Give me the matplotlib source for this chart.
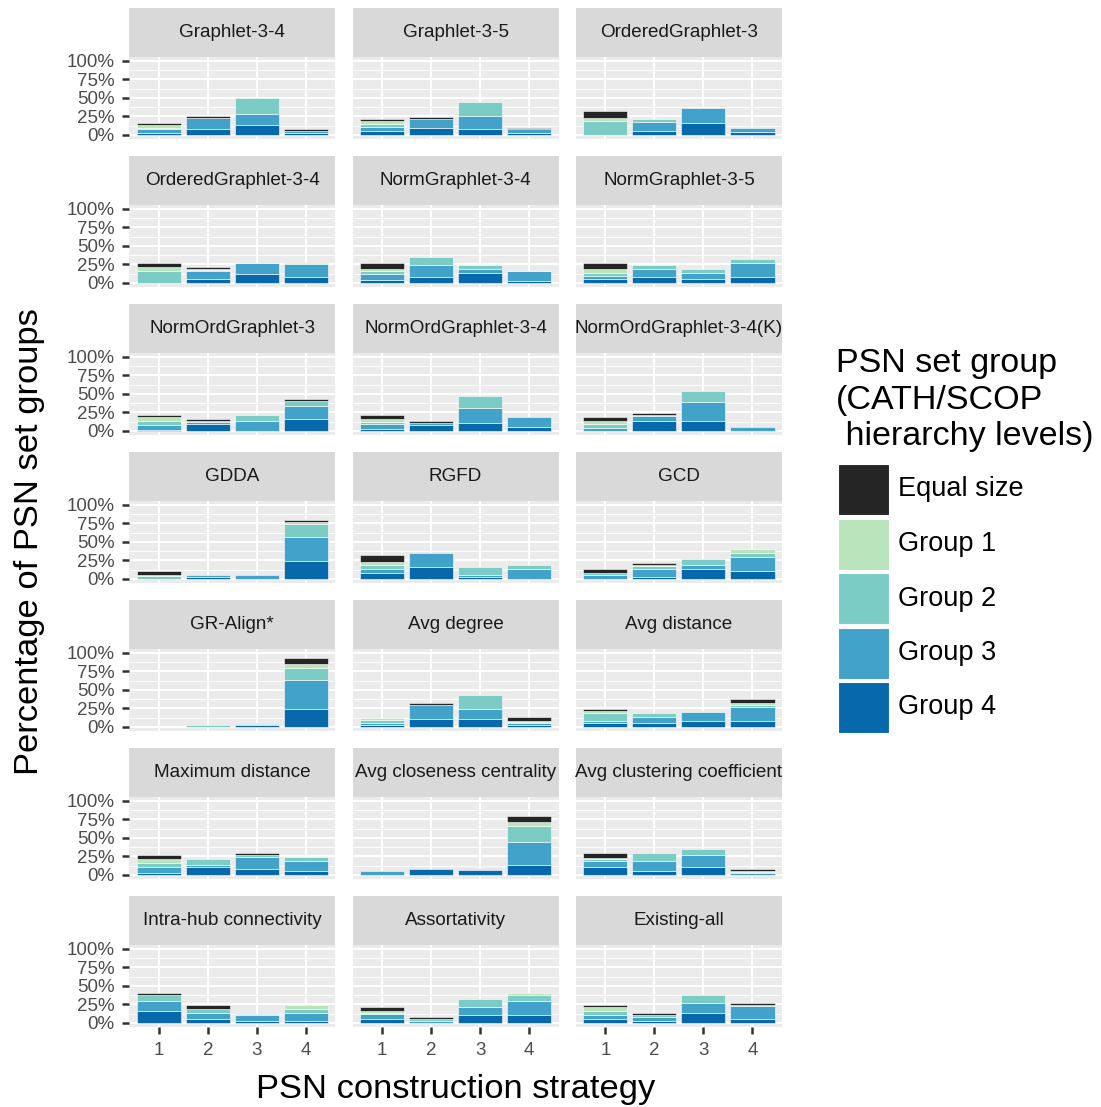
import matplotlib.pyplot as plt
from matplotlib.patches import Rectangle
import numpy as np

plt.rcParams['font.family'] = ['Liberation Sans', 'DejaVu Sans']

# facet names, read row by row
panels = ['Graphlet-3-4', 'Graphlet-3-5', 'OrderedGraphlet-3',
          'OrderedGraphlet-3-4', 'NormGraphlet-3-4', 'NormGraphlet-3-5',
          'NormOrdGraphlet-3', 'NormOrdGraphlet-3-4', 'NormOrdGraphlet-3-4(K)',
          'GDDA', 'RGFD', 'GCD',
          'GR-Align*', 'Avg degree', 'Avg distance',
          'Maximum distance', 'Avg closeness centrality', 'Avg clustering coefficient',
          'Intra-hub connectivity', 'Assortativity', 'Existing-all']
strategies = [1, 2, 3, 4]

# percentages of PSN set groups per strategy (bars 1..4), one list per facet
group4 = [[3, 8, 13, 3], [5, 10, 8, 3], [0, 5, 16, 4.5],
          [0, 6, 12.5, 8], [4.5, 7.5, 13, 3], [5.5, 7.5, 5, 7.5],
          [1.5, 10, 0, 16], [3, 8.5, 11, 5.5], [0, 13.5, 13.5, 0],
          [0, 3, 0, 24], [8, 15.5, 3, 0], [0, 3, 13.5, 11],
          [0, 0, 3, 24], [3, 11, 11, 3], [5.5, 5.5, 8, 8],
          [3, 11, 8, 5.5], [0, 8, 7, 13.5], [11, 5.5, 11, 0],
          [15.5, 5.5, 3, 3], [5.5, 0, 11, 11], [5.5, 3, 13.5, 5.5]]
group3 = [[5, 15, 15.5, 2.5], [6, 11, 18, 5], [0, 13, 21, 5.5],
          [0, 10, 14, 17], [7, 17, 6, 12.5], [4.5, 11.5, 8, 19],
          [6.5, 2, 13.5, 18], [6, 2, 20.5, 13.5], [4.5, 6.5, 26, 5.5],
          [0, 2.5, 5.5, 32], [5.5, 19.5, 2, 13.5], [6, 10, 6, 18.5],
          [0, 0, 1, 39.5], [3, 19, 13.5, 2], [2.5, 8, 12, 18.5],
          [8, 2.5, 16, 13.5], [5.5, 0, 1, 31.5], [8, 13.5, 15.5, 2.5],
          [13.5, 8, 7.5, 10.5], [7, 3, 11, 19], [5.5, 5, 13, 17]]
group2 = [[1, 0, 21, 0], [4, 0, 19, 0], [19, 3.5, 0, 0],
          [16, 2, 0.5, 2], [4.5, 10, 5.5, 0.5], [3.5, 5.5, 6, 5.5],
          [5.5, 1, 8, 6], [3, 0, 16, 0], [5.5, 2, 14, 0],
          [3.5, 0, 0, 18], [5.5, 0, 11, 5.5], [1.5, 5, 7.5, 5],
          [0, 2.5, 1.5, 16.5], [3.5, 0, 18, 1.5], [11, 5.5, 1.5, 3.5],
          [4.5, 8, 2.5, 5.5], [0, 0, 0, 21.5], [2, 11, 8.5, 2],
          [9, 5, 2, 5.5], [1.5, 2.5, 10.5, 7.5], [5, 2.5, 11, 2]]
group1 = [[5, 0, 0, 0], [4, 0, 0, 0], [4, 0, 0, 0],
          [5, 1, 0, 0], [3, 0, 0, 0], [5, 0, 0, 0],
          [5.5, 0, 0, 0], [3.5, 0, 0, 0], [3.5, 0, 0, 0],
          [2, 0, 0, 3], [4.5, 0, 0, 0], [0, 1, 0, 6],
          [0, 0, 0, 5], [3, 0, 0, 1.5], [2.5, 0, 0, 2],
          [5.5, 0, 0, 0], [0, 0, 0, 5.5], [2, 0, 0, 1.5],
          [0, 0, 0, 5.5], [1.5, 0, 0, 3], [6, 0, 0, 0]]
equal_size = [[2, 3, 0, 2], [2.5, 3, 0, 2], [9, 0, 0, 0],
              [6, 2.5, 0, 0], [8, 0, 0, 0], [8, 0, 0, 0],
              [2.5, 3, 0, 3.5], [6, 3.5, 0, 0], [5.5, 2, 0, 0],
              [5.5, 0, 0, 3], [8.5, 0, 0, 0], [6, 2.5, 0, 0],
              [0, 0, 0, 8.5], [0, 2.5, 0, 5.5], [2.5, 0, 0, 5.5],
              [6, 0, 3, 0], [0, 0, 0, 8], [6.5, 0, 0, 2],
              [2.5, 5.5, 0, 0], [6, 3, 0, 0], [2.5, 3, 0, 2.5]]

legend_labels = ['Equal size', 'Group 1', 'Group 2', 'Group 3', 'Group 4']
legend_colors = ['#252525', '#BAE4BC', '#7BCCC4', '#43A2CA', '#0868AC']

# stacking order, bottom to top
stacks = [group4, group3, group2, group1, equal_size]
stack_colors = ['#0868AC', '#43A2CA', '#7BCCC4', '#BAE4BC', '#252525']

W, H = 1101, 1107
fig = plt.figure(figsize=(W / 100, H / 100), dpi=100)

col_x = [129.3, 352.6, 575.9]
panel_w = 206
strip_h = 49
panel_h = 81.7
row_step = 148
top0 = 8

x = np.array(strategies, dtype=float)

for k, name in enumerate(panels):
    r, c = divmod(k, 3)
    x0 = col_x[c]
    ytop = top0 + r * row_step

    # strip with facet title
    sax = fig.add_axes([x0 / W, 1 - (ytop + strip_h) / H, panel_w / W, strip_h / H])
    sax.set_facecolor('#D9D9D9')
    sax.set_xticks([])
    sax.set_yticks([])
    for s in sax.spines.values():
        s.set_visible(False)
    sax.text(0.5, 0.5, name, ha='center', va='center', fontsize=13.6, color='#1A1A1A')

    ax = fig.add_axes([x0 / W, 1 - (ytop + strip_h + panel_h) / H, panel_w / W, panel_h / H])
    ax.set_facecolor('#EBEBEB')
    for s in ax.spines.values():
        s.set_visible(False)

    bottom = np.zeros(4)
    for vals, col in zip(stacks, stack_colors):
        v = np.array(vals[k], dtype=float) / 100
        m = v > 0
        ax.bar(x[m], v[m], 0.9, bottom=bottom[m], color=col,
               edgecolor='white', linewidth=0.4, zorder=3)
        bottom += v

    ax.set_xlim(0.4, 4.6)
    ax.set_ylim(-0.05, 1.05)
    ax.set_xticks(x)
    ax.set_xticklabels([str(s) for s in strategies])
    ax.set_yticks([0, 0.25, 0.5, 0.75, 1.0])
    ax.set_yticklabels(['0%', '25%', '50%', '75%', '100%'])
    ax.set_yticks([0.125, 0.375, 0.625, 0.875], minor=True)
    ax.grid(True, which='major', color='white', linewidth=1.5, zorder=0)
    ax.grid(True, which='minor', axis='y', color='white', linewidth=0.7, zorder=0)
    ax.set_axisbelow(True)

    ax.tick_params(which='minor', length=0)
    ax.tick_params(axis='both', which='major', length=5, width=1.8, color='#333333',
                   labelcolor='#4D4D4D', labelsize=13.5)
    ax.tick_params(axis='y', pad=5.5)
    ax.tick_params(axis='x', pad=6)
    if c != 0:
        ax.tick_params(axis='y', left=False, labelleft=False)
    if r != 6:
        ax.tick_params(axis='x', bottom=False, labelbottom=False)

# axis titles
fig.text(455.6 / W, 1 - 1098 / H, 'PSN construction strategy', ha='center',
         va='baseline', fontsize=24.8)
fig.text(14 / W, 1 - 542 / H, 'Percentage of PSN set groups', ha='left',
         va='center', rotation=90, fontsize=24.8)

# legend
fig.text(836 / W, 1 - 348 / H, 'PSN set group\n(CATH/SCOP\n hierarchy levels)',
         ha='left', va='top', fontsize=24.5, linespacing=1.23)
key_top = 464
key_step = 54.5
key_size = 51
for i, (lab, col) in enumerate(zip(legend_labels, legend_colors)):
    ky = key_top + i * key_step
    fig.add_artist(Rectangle((838 / W, 1 - (ky + key_size) / H), key_size / W,
                             key_size / H, transform=fig.transFigure,
                             facecolor=col, edgecolor='white', linewidth=0.8))
    fig.text(898 / W, 1 - (ky + key_size / 2) / H, lab, ha='left', va='center',
             fontsize=19.5)

fig.savefig('out.png', dpi=100, facecolor='white')
